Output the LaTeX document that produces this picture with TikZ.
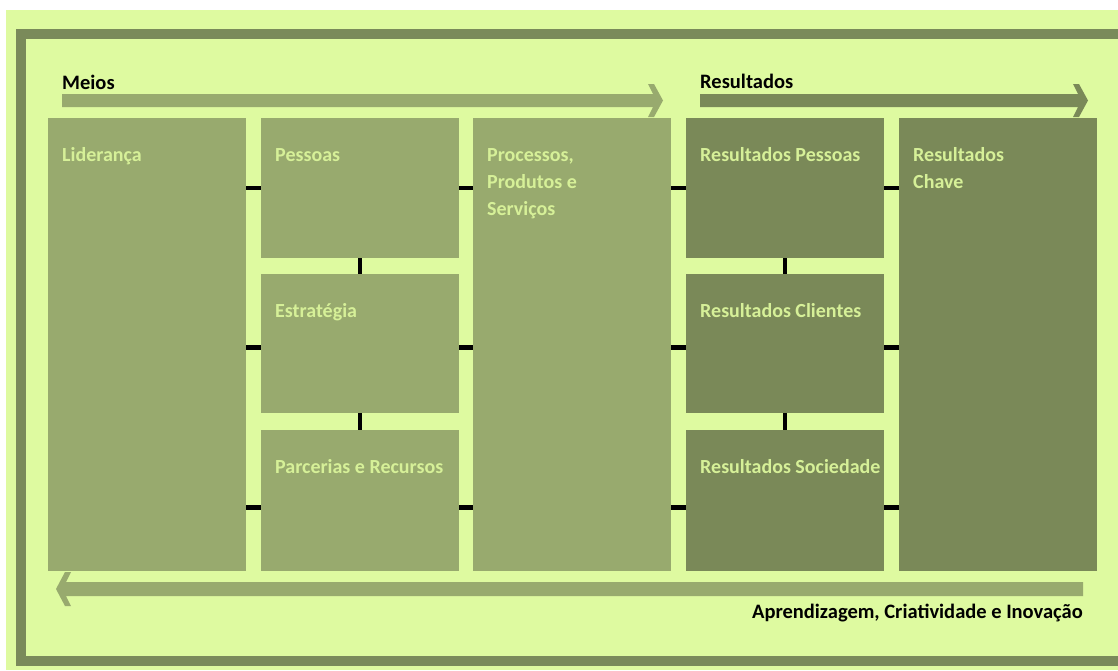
\documentclass[tikz,border=0pt]{standalone}
\usepackage{fontspec}
\setmainfont{Carlito}
\usepackage{tikz}
\usetikzlibrary{calc}

\definecolor{bgGreen}{RGB}{222,250,160}
\definecolor{frameGreen}{RGB}{122,138,90}
\definecolor{meansGreen}{RGB}{152,170,110}
\definecolor{resultGreen}{RGB}{122,137,88}
\definecolor{labelGreen}{RGB}{214,240,152}

\tikzset{
    box/.style={rectangle, anchor=north west, inner sep=0pt, minimum width=198pt},
    meansbox/.style={box, fill=meansGreen},
    resultbox/.style={box, fill=resultGreen},
    boxtext/.style={text=labelGreen, inner sep=0pt, align=left, anchor=base west,
        xshift=14pt, yshift=-43pt, font=\fontsize{20}{27}\selectfont\bfseries},
    headtext/.style={inner sep=0pt, font=\fontsize{20.5}{25}\selectfont\bfseries},
    link/.style={line width=4.5pt, black}
}

\begin{document}
\begin{tikzpicture}[x=1pt, y=-1pt]
        \useasboundingbox (0,0) rectangle (1118,670);
        % Background and outer frame
        \fill[bgGreen] (6,10) rectangle (1118,670);
        \draw[frameGreen, line width=10pt] (21,34) rectangle (1140,661);

        % Direction bands
        \fill[meansGreen] (62,94) -- (653,94) -- (648,84) -- (654,84) -- (663,100.5)
            -- (654,117) -- (648,117) -- (653,107) -- (62,107) -- cycle;
        \fill[resultGreen] (700,94) -- (1078,94) -- (1073,84) -- (1079,84) -- (1088,100.5)
            -- (1079,117) -- (1073,117) -- (1078,107) -- (700,107) -- cycle;
        \fill[meansGreen] (1083,582) -- (66,582) -- (71,572) -- (65,572) -- (56,589)
            -- (65,606) -- (71,606) -- (66,596) -- (1083,596) -- cycle;

        % Band titles
        \node[headtext, anchor=base west] (meios) at (62,89) {Meios};
        \node[headtext, anchor=base west] (resultados) at (700,88) {Resultados};
        \node[headtext, anchor=base east] (aprend) at (1083,618) {Aprendizagem, Criatividade e Inovação};

        % Means
        \node[meansbox, minimum height=453pt, label={[boxtext]north west:Liderança}] (lid) at (48,118) {};
        \node[meansbox, minimum height=140pt, label={[boxtext]north west:Pessoas}] (pes) at (261,118) {};
        \node[meansbox, minimum height=139pt, label={[boxtext]north west:Estratégia}] (est) at (261,274) {};
        \node[meansbox, minimum height=141pt, label={[boxtext]north west:Parcerias e Recursos}] (par) at (261,430) {};
        \node[meansbox, minimum height=453pt,
            label={[boxtext, yshift=-54pt]north west:{Processos,\\Produtos e\\Serviços}}] (pro) at (473,118) {};

        % Results
        \node[resultbox, minimum height=140pt, label={[boxtext]north west:Resultados Pessoas}] (rpe) at (686,118) {};
        \node[resultbox, minimum height=139pt, label={[boxtext]north west:Resultados Clientes}] (rcl) at (686,274) {};
        \node[resultbox, minimum height=141pt, label={[boxtext]north west:Resultados Sociedade}] (rso) at (686,430) {};
        \node[resultbox, minimum height=453pt,
            label={[boxtext, yshift=-27pt]north west:{Resultados\\Chave}}] (chv) at (899,118) {};

        % Links between the columns
        \draw[link] (lid.east |- pes.west) -- (pes.west);
        \draw[link] ([yshift=-4pt]est.west -| lid.east) -- ([yshift=-4pt]est.west);
        \draw[link] ([yshift=-7pt]par.west -| lid.east) -- ([yshift=-7pt]par.west);
        \draw[link] (pes.east) -- (pes.east -| pro.west);
        \draw[link] ([yshift=-4pt]est.east) -- ([yshift=-4pt]est.east -| pro.west);
        \draw[link] ([yshift=-7pt]par.east) -- ([yshift=-7pt]par.east -| pro.west);
        \draw[link] (pro.east |- rpe.west) -- (rpe.west);
        \draw[link] ([yshift=-4pt]rcl.west -| pro.east) -- ([yshift=-4pt]rcl.west);
        \draw[link] ([yshift=-7pt]rso.west -| pro.east) -- ([yshift=-7pt]rso.west);
        \draw[link] (rpe.east) -- (rpe.east -| chv.west);
        \draw[link] ([yshift=-4pt]rcl.east) -- ([yshift=-4pt]rcl.east -| chv.west);
        \draw[link] ([yshift=-7pt]rso.east) -- ([yshift=-7pt]rso.east -| chv.west);

        % Links inside the stacked columns
        \draw[link] (pes.south) -- (est.north);
        \draw[link] (est.south) -- (par.north);
        \draw[link] (rpe.south) -- (rcl.north);
        \draw[link] (rcl.south) -- (rso.north);
    \end{tikzpicture}
\end{document}
